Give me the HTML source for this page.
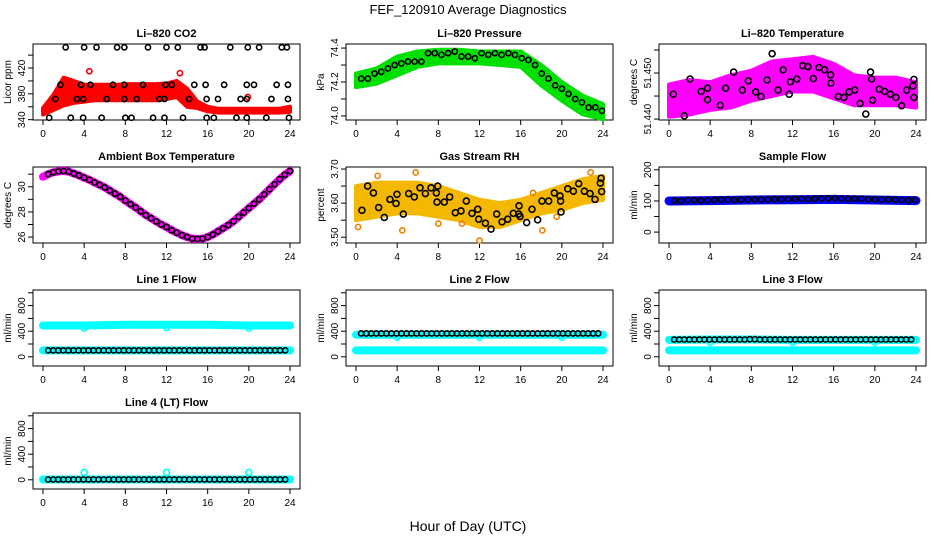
<!DOCTYPE html>
<html><head><meta charset="utf-8"><title>FEF_120910 Average Diagnostics</title>
<style>
html,body{margin:0;padding:0;background:#fff;}
svg{display:block;font-family:"Liberation Sans",Arial,sans-serif;}
</style></head>
<body>
<svg id="chart" width="936" height="540" viewBox="0 0 936 540" xmlns="http://www.w3.org/2000/svg">
<rect x="0" y="0" width="936" height="540" fill="#fff"/>
<text x="468" y="14" text-anchor="middle" font-size="13">FEF_120910  Average Diagnostics</text>
<text x="468" y="531" text-anchor="middle" font-size="14">Hour of Day (UTC)</text>
</svg>
<script>
// ---------- data ----------
const xTicks = [0,4,8,12,16,20,24];
const bandHours = [0,2,4,6,8,10,12,14,16,18,20,22,24];
const co2Hours = [0,1,2,3,4,5,6,7,8,9,10,11,12,13,14,15,16,17,18,19,20,21,22,23,24];
const co2Low  = [348,355,362,366,368,370,370,370,370,370,370,370,372,375,360,358,353,351,351,351,351,351,351,351,352];
const co2High = [358,378,405,400,394,394,394,394,395,395,395,395,396,400,388,368,360,357,357,357,357,357,357,357,360];
const co2OutHours = [4.5,13.3,19.9];
const co2OutVals = [415,412,375];
const co2BlkHours = [2.2,4.0,5.2,7.2,7.9,10.2,12.0,13.1,15.3,15.7,18.2,19.9,21,23.2,23.7,
 1.7,3.7,4.6,6.8,7.9,9.7,11.9,12.5,14.7,15.8,17.6,19.8,20.5,22.7,23.8,
 1.2,3.3,3.9,6.2,7.9,9.1,11.3,11.8,14.2,15.9,17,19.2,19.8,22.2,23.8,
 0.6,2.7,3.9,5.7,8.0,8.6,10.7,11.8,13.6,15.9,16.6,18.8,19.8,21.7,23.9];
const co2BlkVals = [452,452,452,452,452,452,452,452,452,452,452,452,452,452,452,
 394,394,394,394,394,394,394,394,394,394,394,394,394,394,394,
 372,372,372,372,372,372,372,372,372,372,372,372,372,372,372,
 343,343,343,343,343,343,343,343,343,343,343,343,343,343,343];
const presLow  = [74.17,74.19,74.24,74.29,74.31,74.31,74.31,74.30,74.29,74.18,74.09,74.01,73.98];
const presHigh = [74.25,74.28,74.35,74.38,74.39,74.39,74.38,74.38,74.38,74.30,74.20,74.12,74.07];
const presBlk = [74.22,74.22,74.25,74.26,74.28,74.30,74.31,74.32,74.32,74.32,74.37,74.37,74.36,74.37,74.38,74.35,74.35,74.34,74.37,74.36,74.37,74.36,74.37,74.36,74.34,74.33,74.30,74.25,74.22,74.18,74.16,74.13,74.10,74.08,74.05,74.05,74.03];
const tempLow  = [51.4405,51.4410,51.4420,51.4425,51.4440,51.4450,51.4460,51.4460,51.4445,51.4430,51.4430,51.4430,51.4425];
const tempHigh = [51.4475,51.4485,51.4480,51.4495,51.4505,51.4525,51.4530,51.4535,51.4520,51.4495,51.4490,51.4490,51.4480];
const tempBlkHours = [0.42,1.49,2.05,3.12,3.74,3.74,4.98,5.5,6.28,7.12,7.71,8.42,8.94,9.53,10.02,10.6,11.09,11.68,11.8,12.42,12.98,13.5,14.02,14.57,15.12,15.7,15.73,16.46,17.0,17.5,18.05,18.57,19.12,19.58,19.68,19.78,20.42,20.95,21.5,22.05,22.6,23.09,23.7,23.8,23.8];
const tempBlkVals = [51.4454,51.4407,51.4487,51.4460,51.4467,51.4442,51.4430,51.4467,51.4502,51.4463,51.4483,51.4459,51.4449,51.4485,51.4542,51.4463,51.4507,51.4454,51.4481,51.4487,51.4516,51.4514,51.4488,51.4512,51.4507,51.4496,51.4478,51.4449,51.4447,51.4459,51.4463,51.4434,51.4411,51.4502,51.4487,51.4441,51.4465,51.4460,51.4454,51.4447,51.4429,51.4463,51.4472,51.4486,51.4447];
const ambVals = [30.8,31.0,31.15,31.22,31.25,31.2,31.05,30.9,30.72,30.55,30.35,30.15,29.95,29.7,29.45,29.2,28.9,28.62,28.35,28.05,27.75,27.5,27.25,27.0,26.8,26.55,26.35,26.15,26.0,25.88,25.85,25.88,26.0,26.2,26.45,26.7,26.95,27.25,27.6,27.95,28.3,28.65,29.0,29.4,29.8,30.2,30.6,30.95,31.25];
const rhLow  = [3.55,3.56,3.57,3.57,3.56,3.55,3.53,3.53,3.55,3.57,3.58,3.60,3.61];
const rhHigh = [3.65,3.66,3.66,3.66,3.65,3.63,3.61,3.60,3.61,3.63,3.65,3.67,3.68];
const rhBlkHours = [0.58,1.13,1.69,2.2,2.75,3.3,3.89,3.98,4.6,5.12,5.67,6.22,6.74,7.29,7.81,7.87,7.94,8.58,9.1,9.65,10.2,10.72,11.27,11.83,11.92,12.57,13.12,13.67,14.19,14.74,15.29,15.81,15.84,15.94,16.58,17.1,17.65,18.07,18.72,19.27,19.82,19.88,19.92,20.57,21.12,21.64,22.19,22.74,23.22,23.74,23.81,23.87];
const rhBlkVals = [3.579,3.650,3.630,3.587,3.558,3.611,3.599,3.626,3.568,3.628,3.618,3.645,3.628,3.645,3.630,3.603,3.650,3.603,3.618,3.572,3.577,3.606,3.570,3.582,3.553,3.541,3.524,3.568,3.545,3.553,3.570,3.568,3.592,3.561,3.543,3.582,3.551,3.606,3.606,3.630,3.621,3.606,3.574,3.642,3.635,3.657,3.635,3.628,3.611,3.659,3.673,3.634];
const rhOutHours = [0.2,2.1,4.5,5.8,8.0,10.3,12.0,17.2,18.1,19.5,22.8];
const rhOutVals = [3.53,3.68,3.52,3.69,3.54,3.54,3.49,3.63,3.52,3.56,3.69];
const sfLevelHours = [0,4,8,12,16,20,24];
const sfLevel = [100,101,103,104,105,103,101];
const sfBlk = [101,100,103,102,101,102,103,104,104,103,104,105,105,104,105,106,106,106,107,107,106,107,108,108,109,107,106,107,107,106,105,104,105,104,103,102,103];
const flowLevelHours = [0,4,8,12,16,20,24];
const l1Upper = [490,490,500,500,500,490,490];
const l1Lower = [100,100,100,100,100,100,100];
const l1Blk = [100,100,100,100,100,100,100,100,100,100,100,100,100,100,100,100,100,100,100,100,100,100,100,100,100,100,100,100,100,100,100,100,100,100,100,100,100,100,100,100,100,100,100,100,100,100,100,100];
const l2Upper = [345,345,345,345,345,345,345];
const l2Lower = [100,100,100,100,100,100,100];
const l2Blk = [365,365,365,365,365,365,365,365,365,365,365,365,365,365,365,365,365,365,365,365,365,365,365,365,365,365,365,365,365,365,365,365,365,365,365,365,365,365,365,365,365,365,365,365,365,365,365,365];
const l3Upper = [265,270,270,265,265,265,265];
const l3Lower = [100,100,100,100,100,100,100];
const l3Blk = [270,270,270,270,270,270,270,270,270,270,270,270,270,270,270,275,275,270,270,270,270,270,270,270,270,270,270,270,270,270,270,270,270,270,270,270,270,270,270,270,270,270,270,270,270,270,270,270];
const l4Lower = [5,5,5,5,5,5,5];
const l4Blk = [5,5,5,5,5,5,5,5,5,5,5,5,5,5,5,5,5,5,5,5,5,5,5,5,5,5,5,5,5,5,5,5,5,5,5,5,5,5,5,5,5,5,5,5,5,5,5,5];
const dipHours = [4,12,20];
const l1Dips = [440,450,440];
const l2Dips = [300,300,300];
const l3Dips = [220,220,220];
const l4Spikes = [115,115,115];

// ---------- drawing ----------
const svg = document.getElementById('chart');
const NS = 'http://www.w3.org/2000/svg';
const colLeft = [33,346,659];
const rowTop = [44,167,290,413];
const W = 267, H = 76;

function make(tag, attrs, parent){
  const el = document.createElementNS(NS, tag);
  for (const k in attrs) el.setAttribute(k, attrs[k]);
  (parent||svg).appendChild(el);
  return el;
}
function panel(name, col, row, title, ylab, ymin, ymax, ticks, labels){
  const L = colLeft[col], T = rowTop[row];
  const g = make('g', {});
  
  
  const x = h => L + 10 + h/24*247;
  const y = v => T + H - (v - ymin)/(ymax - ymin)*H;
  const t = make('text', {x: L + W/2, y: T - 7, 'text-anchor':'middle', 'font-size':11, 'font-weight':'bold'}, g);
  t.textContent = title;
  
  
  const yl = make('text', {x: 0, y: 0, transform: 'translate(' + (L-22) + ',' + (T+H/2) + ') rotate(-90)', 'text-anchor':'middle', 'font-size':10}, g);
  yl.textContent = ylab;
  
  
  xTicks.forEach(h => {
    const tk = make('line', {x1: x(h), x2: x(h), y1: T+H, y2: T+H+5, stroke:'#000'}, g);
    
    
    const lb = make('text', {x: x(h), y: T+H+17, 'text-anchor':'middle', 'font-size':10}, g);
    lb.textContent = String(h);
    
    
  });
  ticks.forEach((v, i) => {
    const tk = make('line', {x1: L-5, x2: L, y1: y(v), y2: y(v), stroke:'#000'}, g);
    
    
    if (labels[i]) {
      const lb = make('text', {x: 0, y: 0, transform: 'translate(' + (L-8) + ',' + y(v) + ') rotate(-90)', 'text-anchor':'middle', 'font-size':10}, g);
      lb.textContent = labels[i];
      
      
    }
  });
  const box = make('rect', {x: L, y: T, width: W, height: H, fill:'none', stroke:'#000', 'stroke-width':1}, g);
  
  
  const clip = make('g', {}, g);
  return {x, y, g: clip};
}
function band(p, hours, lo, hi, color, nm){
  let d = '';
  hours.forEach((h,i) => { d += (i ? 'L' : 'M') + p.x(h) + ',' + p.y(hi[i]); });
  for (let i = hours.length-1; i >= 0; i--) d += 'L' + p.x(hours[i]) + ',' + p.y(lo[i]);
  const el = make('path', {d: d + 'Z', fill: color, stroke: color, 'stroke-width': 4, 'stroke-linejoin':'round'}, p.g);
  
  
}
function thickLine(p, hours, vals, color, w, nm){
  let d = '';
  hours.forEach((h,i) => { d += (i ? 'L' : 'M') + p.x(h) + ',' + p.y(vals[i]); });
  const el = make('path', {d: d, fill:'none', stroke: color, 'stroke-width': w, 'stroke-linecap':'round', 'stroke-linejoin':'round'}, p.g);
  
  
}
function points(p, hours, vals, color, nm, r){
  vals.forEach((v,i) => {
    const c = make('circle', {cx: p.x(hours[i]), cy: p.y(v), r: r||2.6, fill:'none', stroke: color, 'stroke-width': 1.6}, p.g);
    
    
  });
}
function grid(start, step, n){ const a = []; for (let i = 0; i < n; i++) a.push(+(start + i*step).toFixed(3)); return a; }

// Li-820 CO2
let p = panel('co2', 0, 0, 'Li\u2013820 CO2', 'Licor ppm', 339.5, 457.2, [340,360,380,400,420,440], ['340','','380','','420','']);
band(p, co2Hours, co2Low, co2High, '#ff0000', 'co2-data-cloud');
points(p, co2OutHours, co2OutVals, '#ff0000', 'co2-outlier-point');
points(p, co2BlkHours, co2BlkVals, '#000', 'co2-average-point');

// Pressure
p = panel('pressure', 1, 0, 'Li\u2013820 Pressure', 'kPa', 73.976, 74.424, [74.0,74.1,74.2,74.3,74.4], ['74.0','','74.2','','74.4']);
band(p, bandHours, presLow, presHigh, '#00e000', 'pressure-data-cloud');
points(p, grid(0.5, 0.65, presBlk.length), presBlk, '#000', 'pressure-average-point');

// Li-820 Temperature
p = panel('li820-temp', 2, 0, 'Li\u2013820 Temperature', 'degrees C', 51.4398, 51.4563, [51.440,51.445,51.450,51.455], ['51.440','','51.450','']);
band(p, bandHours, tempLow, tempHigh, '#ff00ff', 'temperature-data-cloud');
points(p, tempBlkHours, tempBlkVals, '#000', 'temperature-average-point', 3);

// Ambient box temperature
p = panel('ambient-temp', 0, 1, 'Ambient Box Temperature', 'degrees C', 25.53, 31.57, [26,27,28,29,30,31], ['26','','28','','30','']);
const ambHours = grid(0, 0.5, ambVals.length);
thickLine(p, ambHours, ambVals, '#ff00ff', 8, 'ambient-temp-data-line');
points(p, ambHours.slice(1), ambVals.slice(1), '#000', 'ambient-temp-average-point');

// Gas stream RH
p = panel('gas-rh', 1, 1, 'Gas Stream RH', 'percent', 3.483, 3.706, [3.50,3.55,3.60,3.65,3.70], ['3.50','','3.60','','3.70']);
band(p, bandHours, rhLow, rhHigh, '#f5b800', 'rh-data-cloud');
points(p, rhOutHours, rhOutVals, '#f08000', 'rh-outlier-point');
points(p, rhBlkHours, rhBlkVals, '#000', 'rh-average-point', 3);

// Sample flow
p = panel('sample-flow', 2, 1, 'Sample Flow', 'ml/min', -35, 209, [0,50,100,150,200], ['0','','100','','200']);
thickLine(p, sfLevelHours, sfLevel, '#0000ff', 9, 'sample-flow-data-line');
points(p, grid(0.5, 0.65, sfBlk.length), sfBlk, '#000', 'sample-flow-average-point');

// Line flows
const fTicks = [0,200,400,600,800,1000], fLabels = ['0','','400','','800',''];
const blkHours = grid(0.5, 0.49, 48);
p = panel('line1-flow', 0, 2, 'Line 1 Flow', 'ml/min', -144, 1044, fTicks, fLabels);
thickLine(p, flowLevelHours, l1Upper, '#00ffff', 8, 'line1-upper-data');
thickLine(p, flowLevelHours, l1Lower, '#00ffff', 8, 'line1-lower-data');
points(p, dipHours, l1Dips, '#00ffff', 'line1-dip-point');
points(p, blkHours, l1Blk, '#000', 'line1-average-point');

p = panel('line2-flow', 1, 2, 'Line 2 Flow', 'ml/min', -144, 1044, fTicks, fLabels);
thickLine(p, flowLevelHours, l2Upper, '#00ffff', 8, 'line2-upper-data');
thickLine(p, flowLevelHours, l2Lower, '#00ffff', 8, 'line2-lower-data');
points(p, dipHours, l2Dips, '#00ffff', 'line2-dip-point');
points(p, blkHours, l2Blk, '#000', 'line2-average-point');

p = panel('line3-flow', 2, 2, 'Line 3 Flow', 'ml/min', -144, 1044, fTicks, fLabels);
thickLine(p, flowLevelHours, l3Upper, '#00ffff', 8, 'line3-upper-data');
thickLine(p, flowLevelHours, l3Lower, '#00ffff', 8, 'line3-lower-data');
points(p, dipHours, l3Dips, '#00ffff', 'line3-dip-point');
points(p, blkHours, l3Blk, '#000', 'line3-average-point');

p = panel('line4-flow', 0, 3, 'Line 4 (LT) Flow', 'ml/min', -144, 1044, fTicks, fLabels);
thickLine(p, flowLevelHours, l4Lower, '#00ffff', 8, 'line4-data');
points(p, dipHours, l4Spikes, '#00ffff', 'line4-spike-point', 3);
points(p, blkHours, l4Blk, '#000', 'line4-average-point');
</script>
</body></html>
